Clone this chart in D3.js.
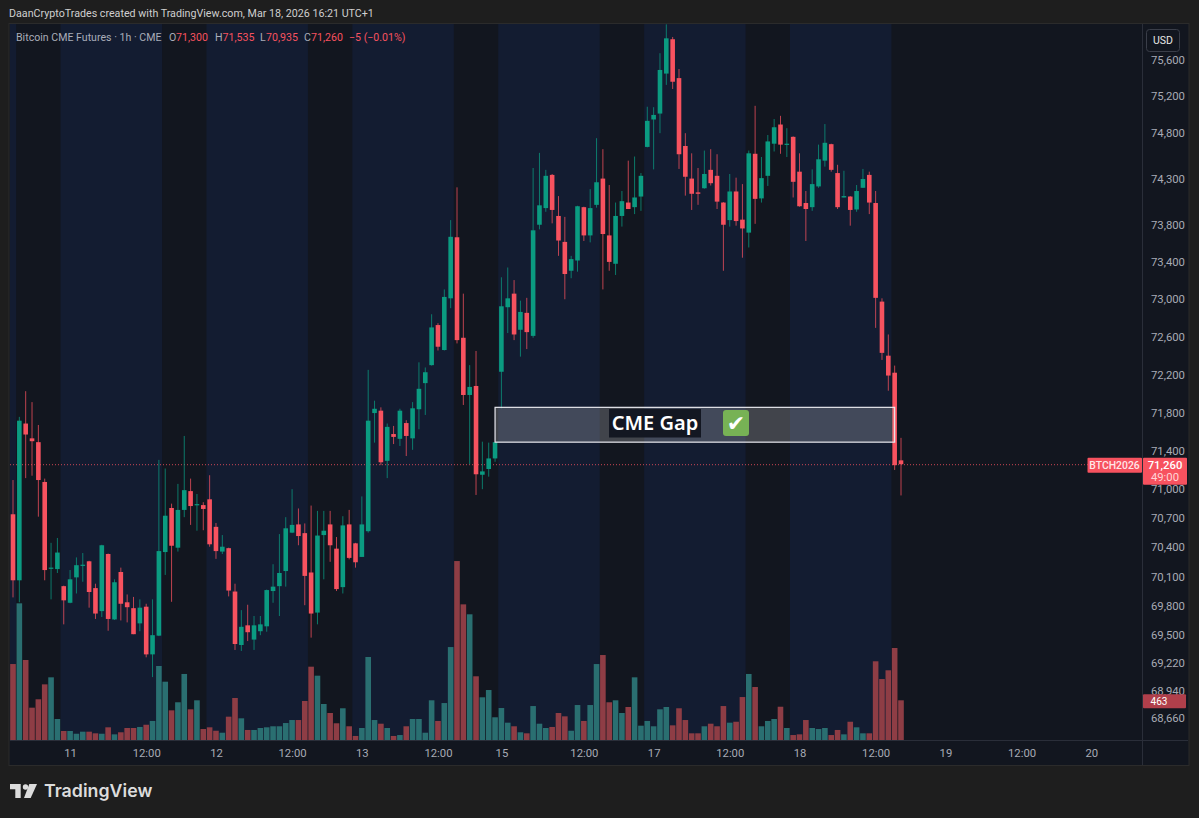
<!DOCTYPE html>
<html><head><meta charset="utf-8">
<script src="https://cdn.jsdelivr.net/npm/d3@7/dist/d3.min.js"></script>
<style>
html,body{margin:0;padding:0;background:#1e1e1e;overflow:hidden}
svg{display:block}
text{font-family:Roboto,"Noto Sans",sans-serif}
</style></head><body>
<svg id="c" width="1199" height="818"></svg>
<script>
const opens=[70740,70060,71685,71530,71490,71075,70180,70175,70000,69830,
70090,70210,70255,69980,69745,70330,69660,70145,69835,69775,
69620,69790,69305,69495,70350,70805,70395,70785,70980,70835,
70835,70895,70610,70355,70390,69945,69400,69600,69455,69540,
69590,69950,70000,70155,70550,70635,70545,70140,69730,70525,
70635,70385,69990,70635,70440,70300,70565,71795,71820,71295,
71575,71525,71690,71530,71835,72110,72300,72725,72460,73010,
73665,72590,71985,72080,71150,71210,71320,72230,72915,73060,
72675,72855,72610,73800,73980,74340,73895,73615,73305,73415,
73990,73685,74015,74300,73685,73380,73895,74040,73990,74105,
74645,74945,75010,75450,75830,75400,74655,74300,74150,74195,
74395,74330,74040,73850,74160,73855,73715,74570,74085,74330,
74680,74890,74670,74755,74375,74035,73990,74215,74495,74675,
74360,74095,74105,73965,74200,74340,74035,72975,72400,72220,
71300];
const highs=[71095,71755,72025,71910,71670,71110,70445,70495,70005,70165,
70295,70340,70260,70025,70425,70335,70070,70190,69915,69890,
69865,69820,69865,71305,71215,70850,71055,71555,71110,70950,
70865,71145,70650,70525,70395,70025,69755,69810,69695,69695,
69965,70225,70535,70710,71000,70800,70645,70830,70775,70775,
70775,70505,70720,70785,70445,70925,72250,71925,71855,71685,
71660,71840,71720,71910,72330,72275,72840,72745,73105,73850,
74205,73060,72300,72450,71495,71485,71490,73235,73340,73205,
72985,73015,74415,74580,74395,74350,74110,73885,73465,74005,
73995,74185,74740,74620,74230,74040,74165,74495,74540,74360,
75085,75080,75675,75995,75855,75500,74795,74575,74415,74605,
74620,74565,74045,74350,74310,74240,74605,75095,74535,74775,
74950,74985,74850,74760,74575,74165,74400,74670,74895,74680,
74450,74385,74110,74230,74405,74375,74165,73010,72625,72295,
71535];
const lows=[69885,69835,71115,71140,70715,70060,69865,70135,69610,69825,
69925,70045,69780,69665,69685,69545,69655,69650,69630,69510,
69540,69275,69075,69490,70115,69840,70355,70710,70630,70570,
70575,70405,70280,70330,69895,69350,69340,69440,69350,69500,
69535,69830,69695,69995,70545,70420,69805,69475,69610,70070,
70250,69950,69925,70275,70190,70300,70550,71485,71250,71115,
71470,71450,71345,71410,71625,71775,72295,72455,72455,72905,
72530,71880,71260,70940,71000,71130,71285,71845,72640,72565,
72390,72470,72590,73750,73940,73815,73465,73000,73225,73295,
73625,73610,73985,73105,73305,73260,73780,73970,73915,73950,
74640,74400,74795,75325,75280,74405,74115,73960,74015,74190,
74225,73970,73305,73780,73790,73445,73555,73810,74040,74220,
74595,74570,74535,74095,73995,73625,73950,74200,74430,74375,
73970,74095,73790,73940,74200,73915,72695,72355,72030,71200,
70935];
const closes=[70060,71715,71570,71500,71095,70165,70190,70345,69855,70070,
70215,70220,69940,69720,70420,69665,70040,69820,69785,69510,
69780,69305,69500,70360,70725,70415,70785,70990,70825,70845,
70795,70430,70360,70405,69955,69410,69585,69530,69600,69610,
69960,69995,70135,70595,70630,70515,70105,69720,70520,70570,
70420,69970,70625,70290,70245,70635,71715,71840,71280,71650,
71545,71820,71555,71845,72050,72225,72700,72495,73025,73670,
72565,71985,72070,71155,71185,71320,71490,72925,73010,72625,
72865,72650,73740,74010,74330,73960,73630,73270,73430,74000,
73685,73980,74260,73700,73400,73895,74055,73970,74095,74330,
74930,74995,75490,75840,75360,74565,74320,74135,74135,74350,
74250,74050,73800,74160,73840,73760,74575,74080,74305,74705,
74860,74670,74680,74265,74000,73970,74240,74510,74690,74395,
73990,74110,73960,74165,74295,74040,73015,72430,72190,71250,
71260];
const volumes=[886,1594,933,377,475,649,731,245,105,105,
73,97,97,78,73,148,66,90,140,140,
152,178,222,863,680,346,440,770,358,463,
128,148,108,85,272,490,253,117,117,140,
148,160,160,198,233,233,455,855,750,420,
315,195,370,160,47,140,968,233,190,140,
47,58,160,245,245,85,463,222,431,1084,
2087,1582,1466,743,498,583,265,373,202,160,
90,78,396,190,140,152,315,276,108,408,
222,408,886,991,440,463,315,385,731,167,
222,160,358,385,171,370,233,78,78,160,
190,160,396,202,213,501,770,618,160,222,
245,388,140,58,66,233,140,128,140,58,
117,66,213,148,78,78,918,711,813,1073,
463];
const priceTicks=[75600,75200,74800,74300,73800,73400,73000,72600,72200,71800,71400,71000,70700,70400,70100,69800,69500,69220,68940,68660];
const timeTickIndex=[9,21,32,44,55,67,77,90,101,113,124,136,147,159,170];
const timeTickLabels=["11","12:00","12","12:00","13","12:00","15","12:00","17","12:00","18","12:00","19","12:00","20"];
const sessionStart=[-1,8,31,54,77,100,123];
const sessionEnd=[0,23,46,69,92,115,138];
const gapTop=71855, gapBottom=71490, gapFrom=76, gapTo=139;
const lastPrice=71260, lastVolume=463;
const legendParts=[["Bitcoin CME Futures · 1h · CME",16,"#a9adb9"],["O",169,"#a9adb9"],["71,300",176,"#f7525f"],["H",215,"#a9adb9"],["71,535",222.5,"#f7525f"],["L",260,"#a9adb9"],["70,935",266,"#f7525f"],["C",304,"#a9adb9"],["71,260",311,"#f7525f"],["−5 (−0.01%)",349,"#f7525f"]];

const RED="#f7525f",GREEN="#0b9b81",VR="#8e3d45",VG="#2a6f71",PANEL="#12161f",NAVY="#131c31",LINE="#2a2e39";
const L=10,R=1142,T=24,B=740,BOT=765,RIGHT=1188;
const svg=d3.select("#c");
const x=d3.scaleLinear().domain([0,140]).range([13,901]);
const y=d3.scaleLog().domain([68660,75600]).range([718.3,60]);
const v=d3.scaleLinear().domain([0,463]).range([B,700.3]);

svg.append("rect").attr("x",L-1).attr("y",T-0.5).attr("width",RIGHT-L+2).attr("height",BOT-T+1).attr("fill",PANEL).attr("stroke","#2b2b2b");
svg.append("defs").append("clipPath").attr("id","plot").append("rect").attr("x",L).attr("y",T).attr("width",R-L).attr("height",B-T);
const plot=svg.append("g").attr("clip-path","url(#plot)");

plot.selectAll("rect.s").data(sessionStart).join("rect").attr("class","s")
 .attr("x",d=>x(d-.5)).attr("width",(d,i)=>x(sessionEnd[i]+.5)-x(d-.5)).attr("y",T).attr("height",B-T).attr("fill",NAVY);

plot.selectAll("rect.v").data(volumes).join("rect").attr("class","v")
 .attr("x",(d,i)=>x(i)-2.8).attr("width",5.6).attr("y",d=>v(d)).attr("height",d=>B-v(d))
 .attr("fill",(d,i)=>closes[i]>=opens[i]?VG:VR);

plot.append("line").attr("x1",L).attr("x2",R).attr("y1",y(lastPrice)+.5).attr("y2",y(lastPrice)+.5)
 .attr("stroke",RED).attr("stroke-dasharray","1 2").attr("stroke-opacity",.8);

const col=i=>closes[i]>=opens[i]?GREEN:RED;
plot.selectAll("line.w").data(opens).join("line").attr("class","w")
 .attr("x1",(d,i)=>x(i)).attr("x2",(d,i)=>x(i)).attr("y1",(d,i)=>y(highs[i])).attr("y2",(d,i)=>y(lows[i]))
 .attr("stroke",(d,i)=>col(i)).attr("stroke-width",1).attr("stroke-opacity",.75);
plot.selectAll("rect.b").data(opens).join("rect").attr("class","b")
 .attr("x",(d,i)=>x(i)-2.3).attr("width",4.6)
 .attr("y",(d,i)=>y(Math.max(opens[i],closes[i])))
 .attr("height",(d,i)=>Math.max(1.2,Math.abs(y(opens[i])-y(closes[i]))))
 .attr("fill",(d,i)=>col(i));

plot.append("rect").attr("x",x(gapFrom)).attr("width",x(gapTo)-x(gapFrom)).attr("y",y(gapTop)).attr("height",y(gapBottom)-y(gapTop))
 .attr("fill","#ffffff").attr("fill-opacity",.2).attr("stroke","#e8e8ee").attr("stroke-width",1.2);
plot.append("rect").attr("x",609).attr("y",409).attr("width",92).attr("height",28.5).attr("fill","#131722");
plot.append("text").attr("x",655).attr("y",430).attr("text-anchor","middle").attr("fill","#fff").attr("font-size",20).attr("font-weight",600)
 .style("font-family","'Noto Sans',sans-serif").text("CME Gap");
plot.append("rect").attr("x",723).attr("y",410).attr("width",26).attr("height",26).attr("rx",3).attr("fill","#77b255");
plot.append("text").attr("x",736).attr("y",431).attr("text-anchor","middle").attr("fill","#fff").attr("font-size",22)
 .style("font-family","'DejaVu Sans',sans-serif").text("✔");

svg.append("line").attr("x1",R+.5).attr("x2",R+.5).attr("y1",T).attr("y2",BOT).attr("stroke",LINE);
svg.append("line").attr("x1",L).attr("x2",RIGHT).attr("y1",B+.5).attr("y2",B+.5).attr("stroke",LINE);

const yAxis=d3.axisRight(y).tickValues(priceTicks).tickSize(0).tickPadding(9).tickFormat(d3.format(","));
const ga=svg.append("g").attr("transform",`translate(${R},0)`).call(yAxis);
ga.select(".domain").remove();
ga.selectAll("text").attr("fill","#a8abb5").attr("font-size",11.3).style("font-family","Roboto,sans-serif");

const xAxis=d3.axisBottom(x).tickValues(timeTickIndex).tickSize(0).tickPadding(9).tickFormat(d=>timeTickLabels[timeTickIndex.indexOf(d)]);
const gx=svg.append("g").attr("transform",`translate(0,${B})`).call(xAxis);
gx.select(".domain").remove();
gx.selectAll("text").attr("fill","#a8abb5").attr("font-size",11.3).style("font-family","Roboto,sans-serif");

/* header */
svg.append("text").attr("x",9).attr("y",17).attr("fill","#cfcfcf").attr("font-size",10.7).text("DaanCryptoTrades created with TradingView.com, Mar 18, 2026 16:21 UTC+1");
svg.selectAll("text.lg").data(legendParts).join("text").attr("class","lg").attr("x",d=>d[1]).attr("y",41).attr("fill",d=>d[2]).attr("font-size",10.6).text(d=>d[0]);

/* USD button */
svg.append("rect").attr("x",1146.5).attr("y",29.5).attr("width",33).attr("height",22).attr("rx",3).attr("fill",PANEL).attr("stroke","#3a3e49");
svg.append("text").attr("x",1163).attr("y",44).attr("text-anchor","middle").attr("fill","#e6e6e6").attr("font-size",10.5).text("USD");

/* price labels */
const py=y(lastPrice);
svg.append("rect").attr("x",1087.5).attr("y",py-6.5).attr("width",54.5).attr("height",15).attr("rx",1).attr("fill",RED);
svg.append("text").attr("x",1114.5).attr("y",py+5).attr("text-anchor","middle").attr("fill","#ffe6e8").attr("font-size",10.4).attr("font-weight",500).text("BTCH2026");
svg.append("rect").attr("x",1143).attr("y",py-6.5).attr("width",44).attr("height",27).attr("rx",1).attr("fill",RED);
svg.append("text").attr("x",1165).attr("y",py+5).attr("text-anchor","middle").attr("fill","#fff").attr("font-size",11.3).attr("font-weight",500).text(d3.format(",")(lastPrice));
svg.append("text").attr("x",1165).attr("y",py+17).attr("text-anchor","middle").attr("fill","#ffd5d8").attr("font-size",11.3).text("49:00");
const vy=v(lastVolume);
svg.append("rect").attr("x",1143).attr("y",vy-6).attr("width",43).attr("height",14).attr("rx",1).attr("fill","#b03f4b");
svg.append("text").attr("x",1159).attr("y",vy+4.5).attr("text-anchor","middle").attr("fill","#fff").attr("font-size",10).text(lastVolume);

/* footer logo */
const logo=svg.append("g").attr("fill","#dcdcdc");
logo.append("path").attr("d","M10 784H20.7V798H15.3V789.3H10Z");
logo.append("circle").attr("cx",25.5).attr("cy",787).attr("r",2.7);
logo.append("path").attr("d","M29.3 784H37L30.7 798H24Z");
svg.append("text").attr("x",44).attr("y",797).attr("fill","#dcdcdc").attr("font-size",17.8).attr("font-weight",600).style("font-family","Inter,sans-serif").text("TradingView");
</script>
</body></html>
